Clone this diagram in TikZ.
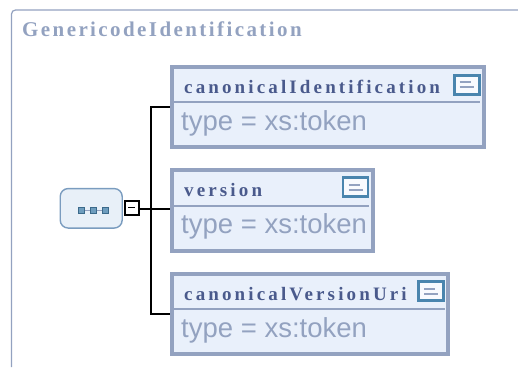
\documentclass[tikz,border=0pt]{standalone}
\usepackage{fontspec}
\setmainfont{Liberation Serif}
\setsansfont{Liberation Sans}
\usetikzlibrary{positioning}

\definecolor{framecol}{HTML}{93A2C0}
\definecolor{namecol}{HTML}{4A5A8C}
\definecolor{fillcol}{HTML}{E9F0FB}
\definecolor{iconcol}{HTML}{4A85AE}
\definecolor{seqfill}{HTML}{E8F0F8}
\definecolor{seqline}{HTML}{7A9CBF}

\newcommand{\spaced}[2]{\addfontfeature{LetterSpace=#1}#2}

\tikzset{
  elembox/.style={draw=framecol, fill=fillcol, line width=4pt, inner sep=0pt},
  divider/.style={draw=framecol, line width=2pt},
  elemname/.style={anchor=base west, inner sep=0pt, text=namecol, font=\fontsize{19}{21}\selectfont\bfseries},
  elemtype/.style={anchor=base west, inner sep=0pt, text=framecol, font=\fontsize{27.5}{30}\selectfont\sffamily},
  noteicon/.style={draw=iconcol, fill=white!70!fillcol, line width=2.8pt, minimum width=25pt, minimum height=19pt, inner sep=0pt},
  noteline/.style={draw=framecol, line width=1.6pt},
  conn/.style={draw=black, line width=2pt},
  seqdot/.style={draw=iconcol!80!black, fill=iconcol!80, line width=0.8pt, minimum size=6pt, inner sep=0pt}
}

\begin{document}
\begin{tikzpicture}[x=1pt,y=-1pt]
\useasboundingbox (0,0) rectangle (518,367);

% cornice
\draw[framecol, line width=1.2pt, rounded corners=4pt] (11.5,367) -- (11.5,10) -- (518,10);
\node[anchor=base west, inner sep=0pt, text=framecol, font=\fontsize{21}{23}\selectfont\bfseries] (title) at (22,36) {\spaced{11.5}{GenericodeIdentification}};

% elementi
\node[elembox, minimum width=312pt, minimum height=80.5pt] (boxIdent) at (327.75,106.75) {};
\node[elembox, minimum width=201pt, minimum height=80.5pt] (boxVersion) at (272.25,210.25) {};
\node[elembox, minimum width=276pt, minimum height=80.5pt] (boxUri) at (309.75,314) {};

% linee
\draw[divider] (173,101.7) -- (480,101.7);
\draw[divider] (173,205.7) -- (369,205.7);
\draw[divider] (173,309) -- (444.5,309);

% nomi
\node[elemname] (nameIdent) at (184,93) {\spaced{16.5}{canonicalIdentification}};
\node[elemname] (nameVersion) at (184,196.5) {\spaced{16.5}{version}};
\node[elemname] (nameUri) at (184,300.5) {\spaced{16.5}{canonicalVersionUri}};

% tipi
\node[elemtype] (typeIdent) at (181,130) {type = xs:token};
\node[elemtype] (typeVersion) at (181,233.7) {type = xs:token};
\node[elemtype] (typeUri) at (181,337.3) {type = xs:token};

% note
\node[noteicon] (noteIdent) at (466.7,84.7) {};
\node[noteicon] (noteVersion) at (355.5,187.3) {};
\node[noteicon] (noteUri) at (431.3,291.3) {};
\draw[noteline] ([xshift=-7pt,yshift=-2.5pt]noteIdent.center) -- ([xshift=7pt,yshift=-2.5pt]noteIdent.center);
\draw[noteline] ([xshift=-7pt,yshift=2.5pt]noteIdent.center) -- ([xshift=4pt,yshift=2.5pt]noteIdent.center);
\draw[noteline] ([xshift=-7pt,yshift=-2.5pt]noteVersion.center) -- ([xshift=7pt,yshift=-2.5pt]noteVersion.center);
\draw[noteline] ([xshift=-7pt,yshift=2.5pt]noteVersion.center) -- ([xshift=4pt,yshift=2.5pt]noteVersion.center);
\draw[noteline] ([xshift=-7pt,yshift=-2.5pt]noteUri.center) -- ([xshift=7pt,yshift=-2.5pt]noteUri.center);
\draw[noteline] ([xshift=-7pt,yshift=2.5pt]noteUri.center) -- ([xshift=4pt,yshift=2.5pt]noteUri.center);

% sequenza
\node[draw=seqline, fill=seqfill, line width=1.4pt, rounded corners=8pt, minimum width=62pt, minimum height=39.5pt, inner sep=0pt] (seq) at (91.2,208.3) {};
\node[seqdot] (dotA) at (81.3,210.3) {};
\node[seqdot] (dotB) at (93.3,210.3) {};
\node[seqdot] (dotC) at (105,210.3) {};
\draw[framecol, line width=1pt] (dotA) -- (dotB);
\draw[framecol, line width=1pt] (dotB) -- (dotC);

% meno
\node[draw=black, fill=white, line width=2pt, minimum size=14pt, inner sep=0pt] (minus) at (131.8,207.7) {};
\draw[black, line width=1.2pt] ([xshift=-3.5pt]minus.center) -- ([xshift=3.5pt]minus.center);

% collegamenti
\coordinate (trunk) at (150.5,209);
\draw[conn] (minus.east |- trunk) -- (boxVersion.west |- trunk);
\draw[conn] (trunk) |- (boxIdent.west);
\draw[conn] (trunk) |- (boxUri.west);

\end{tikzpicture}
\end{document}
